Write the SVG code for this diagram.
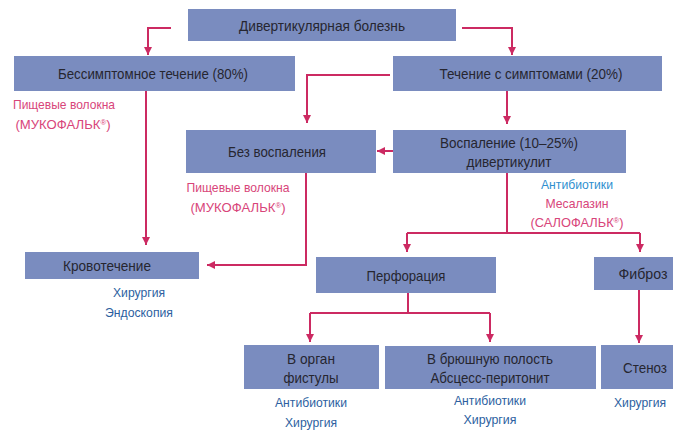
<svg xmlns="http://www.w3.org/2000/svg" width="673" height="432" viewBox="0 0 673 432">
<defs>
<marker id="ah" markerUnits="userSpaceOnUse" markerWidth="9" markerHeight="8" refX="8" refY="4" orient="auto">
<path d="M0,0 L8,4 L0,8 z" fill="#cc2a62"/>
</marker>
<style>
.box{fill:#7a8cbf}
.t{font-family:"Liberation Sans",Arial,sans-serif;font-size:15px;fill:#262630;text-anchor:middle}
.l{font-family:"Liberation Sans",Arial,sans-serif;font-size:13.5px;text-anchor:middle}
.pk{fill:#d8457a}
.bl{fill:#2d5f9f}
.cy{fill:#2f8fcf}
.c{fill:none;stroke:#cc2a62;stroke-width:2;marker-end:url(#ah)}
.cn{fill:none;stroke:#cc2a62;stroke-width:2}
.sup{font-size:8px}
</style>
</defs>
<rect width="673" height="432" fill="#ffffff"/>
<g id="connectors">
<path class="c" d="M171,28 H148 V55"/>
<path class="c" d="M462,28 H512 V55"/>
<path class="c" d="M146,91 V245"/>
<path class="c" d="M390,75 H307 V123"/>
<path class="c" d="M507,91 V124"/>
<path class="c" d="M393,151 H377"/>
<path class="c" d="M306,173 V265 H207"/>
<path class="cn" d="M507,173 V233 M407,233 H640"/>
<path class="c" d="M407,233 V252"/>
<path class="c" d="M640,233 V252"/>
<path class="cn" d="M408,293 V313 M310,313 H490"/>
<path class="c" d="M310,313 V342"/>
<path class="c" d="M490,313 V342"/>
<path class="c" d="M639,290 V343"/>
</g>
<g id="n-root">
<rect class="box" x="188" y="9" width="268" height="32"/>
<text class="t" x="322" y="31" textLength="166" lengthAdjust="spacingAndGlyphs">Дивертикулярная болезнь</text>
</g>
<g id="n-asym">
<rect class="box" x="14" y="56" width="281" height="35"/>
<text class="t" x="153" y="79" textLength="190" lengthAdjust="spacingAndGlyphs">Бессимптомное течение (80%)</text>
</g>
<g id="n-sym">
<rect class="box" x="393" y="56" width="269" height="35"/>
<text class="t" x="531" y="79" textLength="183" lengthAdjust="spacingAndGlyphs">Течение с симптомами (20%)</text>
</g>
<g id="n-noinfl">
<rect class="box" x="186" y="130" width="190" height="43"/>
<text class="t" x="277" y="157" textLength="98" lengthAdjust="spacingAndGlyphs">Без воспаления</text>
</g>
<g id="n-infl">
<rect class="box" x="393" y="130" width="233" height="43"/>
<text class="t" x="509" y="148" textLength="138" lengthAdjust="spacingAndGlyphs">Воспаление (10–25%)</text>
<text class="t" x="509" y="167" textLength="85" lengthAdjust="spacingAndGlyphs">дивертикулит</text>
</g>
<g id="n-bleed">
<rect class="box" x="25" y="252" width="174" height="27"/>
<text class="t" x="107" y="271" textLength="88" lengthAdjust="spacingAndGlyphs">Кровотечение</text>
</g>
<g id="n-perf">
<rect class="box" x="316" y="257" width="180" height="36"/>
<text class="t" x="406" y="281" textLength="79" lengthAdjust="spacingAndGlyphs">Перфорация</text>
</g>
<g id="n-fibr">
<rect class="box" x="594" y="257" width="79" height="33"/>
<text class="t" x="643" y="279" textLength="49" lengthAdjust="spacingAndGlyphs">Фиброз</text>
</g>
<g id="n-organ">
<rect class="box" x="244" y="345" width="135" height="44"/>
<text class="t" x="311" y="364" textLength="48" lengthAdjust="spacingAndGlyphs">В орган</text>
<text class="t" x="311" y="383" textLength="55" lengthAdjust="spacingAndGlyphs">фистулы</text>
</g>
<g id="n-abd">
<rect class="box" x="385" y="346" width="211" height="43"/>
<text class="t" x="490" y="364" textLength="126" lengthAdjust="spacingAndGlyphs">В брюшную полость</text>
<text class="t" x="490" y="383" textLength="119" lengthAdjust="spacingAndGlyphs">Абсцесс-перитонит</text>
</g>
<g id="n-sten">
<rect class="box" x="601" y="345" width="72" height="44"/>
<text class="t" x="645" y="373" textLength="44" lengthAdjust="spacingAndGlyphs">Стеноз</text>
</g>
<g id="labels">
<text class="l pk" x="64" y="109" textLength="102" lengthAdjust="spacingAndGlyphs">Пищевые волокна</text>
<text class="l pk" x="63" y="129" textLength="95" lengthAdjust="spacingAndGlyphs">(МУКОФАЛЬК<tspan class="sup" dy="-4">®</tspan><tspan dy="4">)</tspan></text>
<text class="l pk" x="238" y="192" textLength="103" lengthAdjust="spacingAndGlyphs">Пищевые волокна</text>
<text class="l pk" x="238" y="212" textLength="95" lengthAdjust="spacingAndGlyphs">(МУКОФАЛЬК<tspan class="sup" dy="-4">®</tspan><tspan dy="4">)</tspan></text>
<text class="l cy" x="577" y="189" textLength="72" lengthAdjust="spacingAndGlyphs">Антибиотики</text>
<text class="l pk" x="577" y="208" textLength="63" lengthAdjust="spacingAndGlyphs">Месалазин</text>
<text class="l pk" x="577" y="227" textLength="93" lengthAdjust="spacingAndGlyphs">(САЛОФАЛЬК<tspan class="sup" dy="-4">®</tspan><tspan dy="4">)</tspan></text>
<text class="l bl" x="139" y="297" textLength="52" lengthAdjust="spacingAndGlyphs">Хирургия</text>
<text class="l bl" x="139" y="317" textLength="68" lengthAdjust="spacingAndGlyphs">Эндоскопия</text>
<text class="l bl" x="311" y="407" textLength="72" lengthAdjust="spacingAndGlyphs">Антибиотики</text>
<text class="l bl" x="311" y="427" textLength="52" lengthAdjust="spacingAndGlyphs">Хирургия</text>
<text class="l bl" x="490" y="405" textLength="72" lengthAdjust="spacingAndGlyphs">Антибиотики</text>
<text class="l bl" x="490" y="424" textLength="53" lengthAdjust="spacingAndGlyphs">Хирургия</text>
<text class="l bl" x="640" y="407" textLength="52" lengthAdjust="spacingAndGlyphs">Хирургия</text>
</g>
</svg>
